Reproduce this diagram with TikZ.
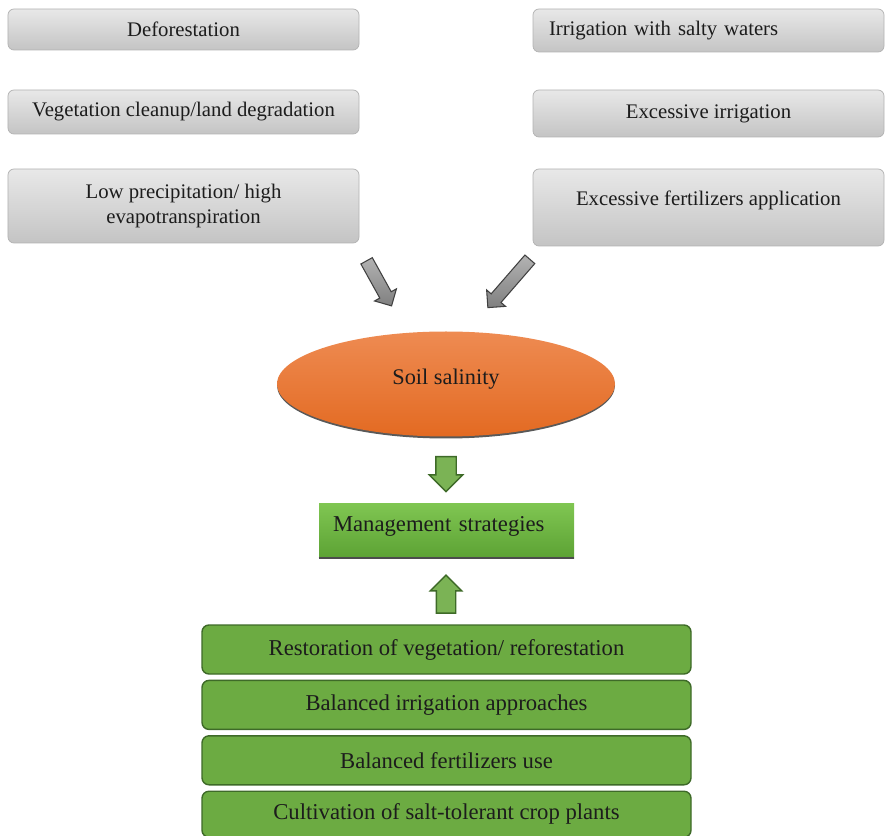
\documentclass[tikz,border=0pt]{standalone}
\usepackage{fontspec}
\setmainfont{Liberation Serif}
\usetikzlibrary{positioning,shapes,shadows}

\definecolor{graytop}{HTML}{E8E8E8}
\definecolor{graybot}{HTML}{C4C4C4}
\definecolor{grayline}{HTML}{B2B2B2}
\definecolor{orangetop}{HTML}{EE8B52}
\definecolor{orangebot}{HTML}{E36A22}
\definecolor{greenfill}{HTML}{6CAB42}
\definecolor{greenline}{HTML}{3E6A28}
\definecolor{greentop}{HTML}{80C652}
\definecolor{greenbot}{HTML}{5CA234}
\definecolor{textblack}{HTML}{1C1C1C}

\begin{document}
\begin{tikzpicture}[
  every node/.style={font=\fontsize{11.8}{13.7}\selectfont, text=textblack},
  causebox/.style={draw=grayline, rounded corners=0.12cm, top color=graytop, bottom color=graybot,
    minimum width=7.02cm, align=center, inner sep=0pt},
  stratbox/.style={draw=greenline, line width=0.8pt, rounded corners=0.14cm, fill=greenfill,
    minimum width=9.78cm, minimum height=0.98cm, inner sep=0pt, font=\fontsize{12.9}{15}\selectfont},
  grayarrow/.style={single arrow, draw=black!75, top color=black!30, bottom color=black!50,
    inner sep=0.12cm, single arrow head extend=0.12cm, line width=0.6pt},
  greenarrow/.style={single arrow, draw=greenline, fill=greenfill!90!white, line width=0.8pt,
    inner sep=0.19cm, single arrow head extend=0.13cm},
]
\useasboundingbox (0,0) rectangle (17.72,-16.72);

% causes
\node[causebox, minimum height=0.82cm] (defo) at (3.67,-0.59) {Deforestation};
\node[causebox, minimum height=0.88cm] (veg) at (3.67,-2.24) {Vegetation cleanup/land degradation};
\node[causebox, minimum height=1.48cm] (prec) at (3.67,-4.12) {Low precipitation/ high\\evapotranspiration};

\node[causebox, minimum height=0.86cm, text width=6.38cm, align=left, inner xsep=0.32cm] (salt) at (14.17,-0.61) {Irrigation with salty waters};
\node[causebox, minimum height=0.94cm] (irr) at (14.17,-2.27) {Excessive irrigation};
\node[causebox, minimum height=1.54cm, text depth=0.37cm] (fert) at (14.17,-4.15) {Excessive fertilizers application};

% arrows
\node[grayarrow, rotate=-61, minimum height=1.03cm] (arrl) at (7.55,-5.61) {};
\node[grayarrow, rotate=-131, minimum height=1.28cm] (arrr) at (10.22,-5.62) {};

% Soil salinity
\fill[black!65] (8.92,-7.71) ellipse (3.38cm and 1.06cm);
\node[ellipse, top color=orangetop, bottom color=orangebot, minimum width=6.76cm, minimum height=2.1cm,
  text depth=0.3cm, font=\fontsize{12.7}{15}\selectfont] (soil) at (8.92,-7.68) {Soil salinity};

\node[greenarrow, rotate=-90, minimum height=0.7cm] (arrdown) at (8.92,-9.38) {};

\node[top color=greentop, bottom color=greenbot, minimum width=5.1cm, minimum height=1.1cm,
  text width=4.54cm, align=left, inner xsep=0.28cm, text depth=0.27cm,
  font=\fontsize{12.9}{15}\selectfont] (mgmt) at (8.93,-10.61) {Management strategies};
\draw[black!70, line width=1.2pt] (mgmt.south west) -- (mgmt.south east);

\node[greenarrow, rotate=90, minimum height=0.76cm, inner sep=0.18cm, single arrow head extend=0.12cm] (arrup) at (8.92,-11.98) {};

% strategies
\node[stratbox] (rest) at (8.93,-12.99) {Restoration of vegetation/ reforestation};
\node[stratbox, below=0.1cm of rest] (bal) {Balanced irrigation approaches};
\node[stratbox, below=0.1cm of bal] (fuse) {Balanced fertilizers use};
\node[stratbox, below=0.1cm of fuse, minimum height=0.92cm] (cult) {Cultivation of salt-tolerant crop plants};

\end{tikzpicture}
\end{document}
